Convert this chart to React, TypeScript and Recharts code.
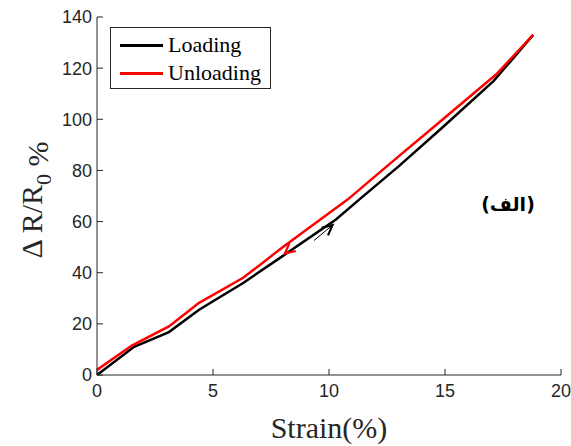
import React from "react";
import { LineChart, Line, XAxis, YAxis, ReferenceDot } from "recharts";

const X_TICKS = [0, 5, 10, 15, 20];
const Y_TICKS = [0, 20, 40, 60, 80, 100, 120, 140];

const LOADING_X = [0, 1.6, 3.1, 4.4, 6.3, 8, 10.3, 11.3, 13, 14.9, 17.1, 18.8];
const LOADING_Y = [0, 11, 16.8, 25.5, 36, 46.5, 60.8, 68.6, 81.6, 96.9, 115, 133];

const UNLOADING_X = [0, 1.5, 3.1, 4.4, 6.3, 7.3, 8.0, 10.8, 13, 14.5, 17.2, 18.8];
const UNLOADING_Y = [2, 11.5, 19, 28.2, 38, 45, 50, 68.6, 85.5, 96.9, 117.5, 133];

// arrow tips showing the direction of each branch
const LOAD_ARROW = { x: 10.15, y: 58.6 };
const UNLOAD_ARROW = { x: 8.1, y: 47.5 };

const SERIES = [
  { name: "Loading", color: "#000000" },
  { name: "Unloading", color: "#ff0000" },
];

const loading = LOADING_X.map((x, i) => ({ x, y: LOADING_Y[i] }));
const unloading = UNLOADING_X.map((x, i) => ({ x, y: UNLOADING_Y[i] }));

const AXIS = "#262626";
const tickStyle = { fontFamily: "Liberation Sans", fontSize: 18, fill: AXIS };

function LegendBox() {
  return (
    <div
      style={{
        position: "absolute",
        left: 110,
        top: 27,
        width: 161,
        height: 62,
        boxSizing: "border-box",
        border: `1px solid ${AXIS}`,
        background: "#fff",
        padding: "3px 0 0 9px",
        fontFamily: "Liberation Serif",
        fontSize: 22,
        color: "#000",
      }}
    >
      {SERIES.map((s) => (
        <div key={s.name} style={{ display: "flex", alignItems: "center", height: 28 }}>
          <span style={{ width: 43, height: 3, background: s.color, marginRight: 5 }} />
          {s.name}
        </div>
      ))}
    </div>
  );
}

function YLabel(props: any) {
  const vb = props.viewBox || { x: 0, y: 17, width: 97, height: 358 };
  const cx = 42;
  const cy = vb.y + vb.height / 2 + 4;
  return (
    <text
      x={cx}
      y={cy}
      transform={`rotate(-90, ${cx}, ${cy})`}
      textAnchor="middle"
      fontFamily="Liberation Serif"
      fontSize={30}
      fill={AXIS}
    >
      Δ R/R
      <tspan dy={9} fontSize={22}>0</tspan>
      <tspan dy={-3}> %</tspan>
    </text>
  );
}

function Arrow(props: any) {
  const { cx, cy, color, dir, shaft } = props;
  if (cx == null || cy == null) return null;
  // dir: unit vector pointing the way the arrow goes (screen coords)
  const [ux, uy] = dir;
  const px = -uy;
  const py = ux;
  const hl = 10;
  const hw = 5;
  const bx = cx - ux * hl;
  const by = cy - uy * hl;
  return (
    <g>
      {shaft ? (
        <line
          x1={cx - ux * 24}
          y1={cy - uy * 24}
          x2={cx}
          y2={cy}
          stroke={color}
          strokeWidth={1}
        />
      ) : null}
      <path
        d={`M${bx + px * hw},${by + py * hw} L${cx},${cy} L${bx - px * hw},${by - py * hw}`}
        fill="none"
        stroke={color}
        strokeWidth={2.2}
      />
    </g>
  );
}

export default function App() {
  return (
    <div style={{ position: "absolute", left: 0, top: 0, background: "#fff" }}>
      <LineChart
        width={571}
        height={446}
        margin={{ top: 17, right: 10, bottom: 0, left: 0 }}
      >
        <XAxis
          xAxisId="top"
          orientation="top"
          type="number"
          dataKey="x"
          domain={[0, 20]}
          ticks={X_TICKS}
          height={0}
          tickSize={-6}
          tickFormatter={() => ""}
          stroke={AXIS}
        />
        <YAxis
          yAxisId="right"
          orientation="right"
          type="number"
          domain={[0, 140]}
          ticks={Y_TICKS}
          width={0}
          tickSize={-6}
          tickFormatter={() => ""}
          stroke={AXIS}
        />
        <XAxis
          type="number"
          dataKey="x"
          domain={[0, 20]}
          ticks={X_TICKS}
          height={71}
          tickSize={-6}
          tickMargin={15}
          stroke={AXIS}
          tick={tickStyle}
          label={{
            value: "Strain(%)",
            position: "insideBottom",
            offset: 8,
            style: { fontFamily: "Liberation Serif", fontSize: 30, fill: AXIS },
          }}
        />
        <YAxis
          type="number"
          domain={[0, 140]}
          ticks={Y_TICKS}
          width={97}
          tickSize={-6}
          tickMargin={11}
          stroke={AXIS}
          tick={tickStyle}
          label={<YLabel />}
        />
        <Line
          data={loading}
          dataKey="y"
          name="Loading"
          stroke="#000000"
          strokeWidth={2.5}
          dot={false}
          isAnimationActive={false}
        />
        <Line
          data={unloading}
          dataKey="y"
          name="Unloading"
          stroke="#ff0000"
          strokeWidth={2.5}
          dot={false}
          isAnimationActive={false}
        />
        <ReferenceDot
          x={LOAD_ARROW.x}
          y={LOAD_ARROW.y}
          shape={(p: any) => <Arrow {...p} color="#000" dir={[0.77, -0.64]} shaft />}
        />
        <ReferenceDot
          x={UNLOAD_ARROW.x}
          y={UNLOAD_ARROW.y}
          shape={(p: any) => <Arrow {...p} color="#ff0000" dir={[-0.77, 0.64]} />}
        />
      </LineChart>
      <LegendBox />
      <div
        dir="rtl"
        style={{
          position: "absolute",
          left: 475,
          top: 193,
          width: 66,
          textAlign: "center",
          fontFamily: "DejaVu Sans",
          fontWeight: "bold",
          fontSize: 19,
          color: "#000",
        }}
      >
        (الف)
      </div>
    </div>
  );
}
